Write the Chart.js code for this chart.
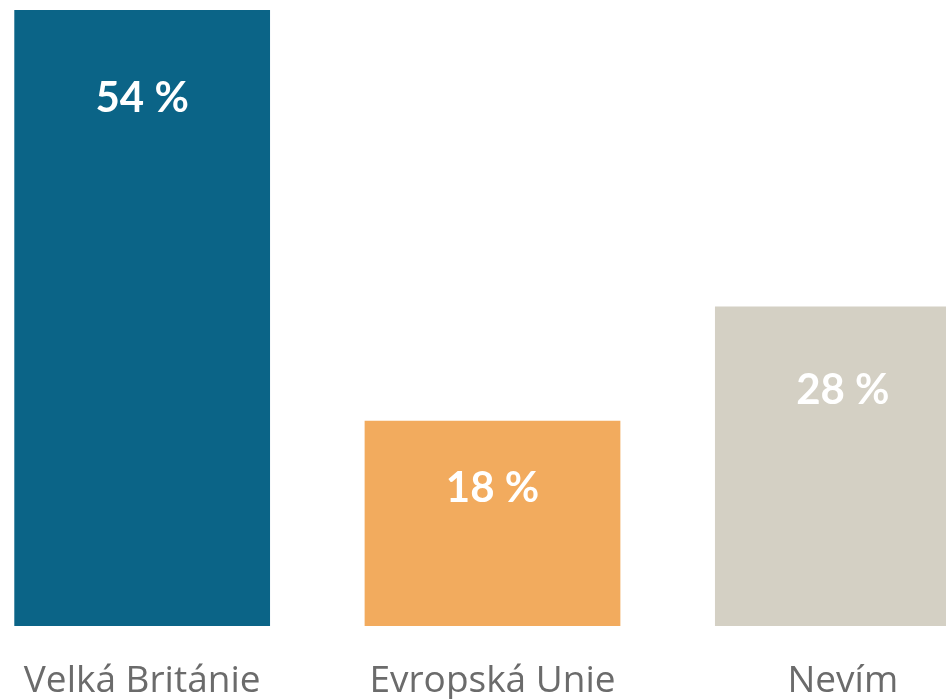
<!DOCTYPE html>
<html>
<head>
<meta charset="utf-8">
<script src="https://cdn.jsdelivr.net/npm/chart.js@4/dist/chart.umd.min.js"></script>
<style>
  html, body { margin: 0; padding: 0; background: #fff; overflow: hidden; }
  #wrap { position: absolute; left: -33px; top: 0; width: 1051px; height: 699px; }
</style>
</head>
<body>
<div id="wrap"><canvas id="bar-chart"></canvas></div>
<script>
var categories = ["Velká Británie", "Evropská Unie", "Nevím"];
var shares = [54, 18, 28];
var barColors = ["#0b6487", "#f2ab5e", "#d4d0c4"];

// white value labels inside each bar, measured down from the bar's top
var valueLabels = {
  id: 'valueLabels',
  afterDatasetsDraw: function(chart, args, opts) {
    var ctx = chart.ctx;
    var meta = chart.getDatasetMeta(0);
    ctx.save();
    ctx.fillStyle = '#ffffff';
    ctx.font = 'bold 42px Lato, "Open Sans", sans-serif';
    ctx.textAlign = 'center';
    ctx.textBaseline = 'middle';
    meta.data.forEach(function(bar, i) {
      ctx.fillText(shares[i] + ' %', bar.x, bar.y + opts.offsets[i]);
    });
    ctx.restore();
  }
};

new Chart(document.getElementById("bar-chart"), {
  type: 'bar',
  data: {
    labels: categories,
    datasets: [{
      data: shares,
      backgroundColor: barColors,
      barPercentage: 0.73,
      categoryPercentage: 1
    }]
  },
  options: {
    responsive: true,
    maintainAspectRatio: false,
    animation: false,
    layout: { padding: { top: 10, left: 0, right: 0, bottom: 0 } },
    plugins: {
      legend: { display: false },
      tooltip: { enabled: false },
      valueLabels: { offsets: [88, 68, 84] }
    },
    scales: {
      x: {
        grid: { display: false, drawTicks: false },
        border: { display: false },
        afterFit: function(scale) { scale.height = 73; },
        ticks: {
          color: '#6b6b6b',
          padding: 33,
          maxRotation: 0,
          font: { family: '"Open Sans", sans-serif', size: 37 }
        }
      },
      y: {
        display: false,
        min: 0,
        max: 54
      }
    }
  },
  plugins: [valueLabels]
});
</script>
</body>
</html>
